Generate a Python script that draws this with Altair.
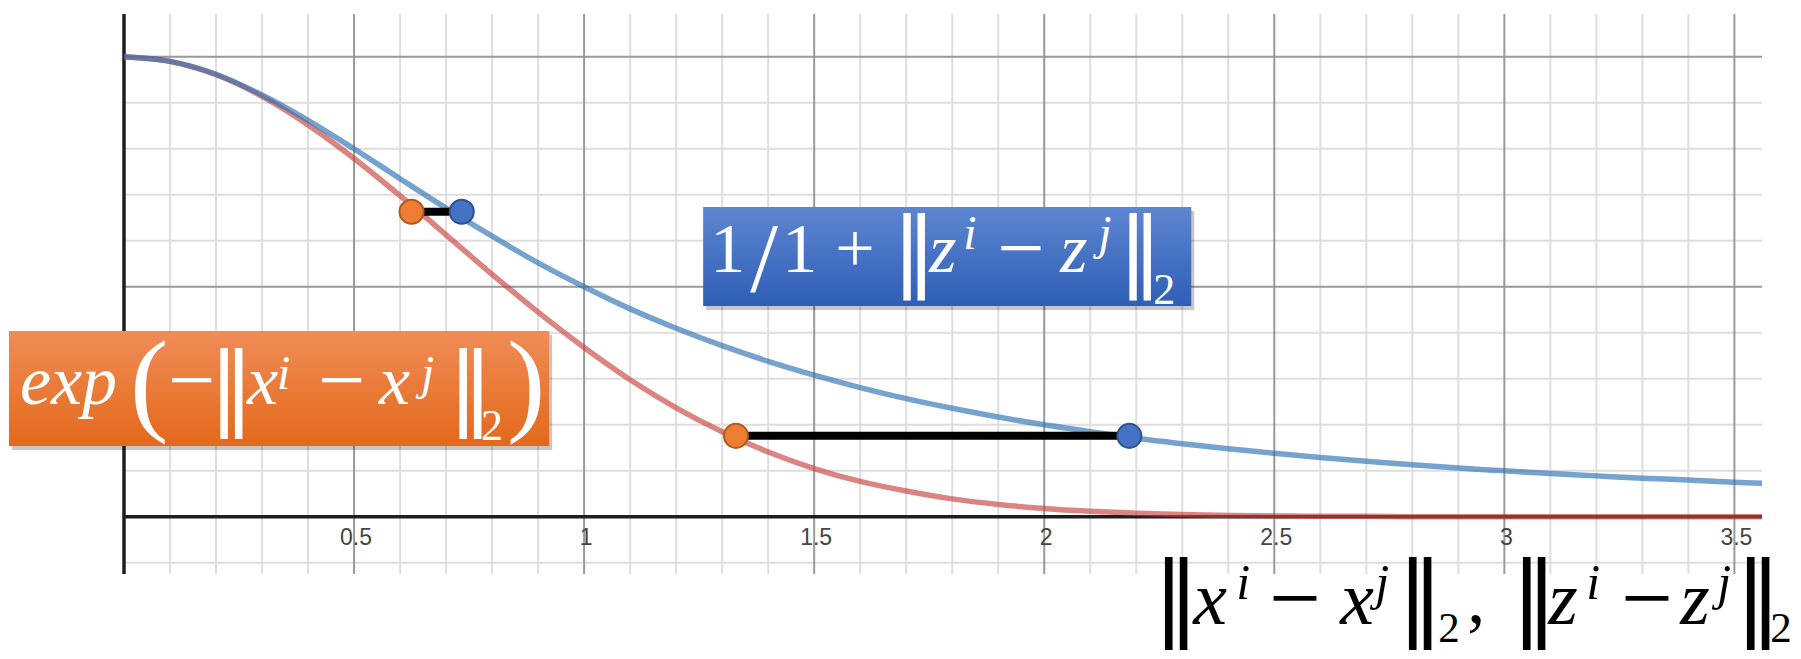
import altair as alt
import pandas as pd

# ---------------- data ----------------
xs = [0.0, 0.1, 0.2, 0.3, 0.4, 0.5, 0.6, 0.7, 0.8, 0.9, 1.0, 1.1, 1.2, 1.3, 1.4, 1.5,
      1.6, 1.7, 1.8, 1.9, 2.0, 2.1, 2.2, 2.3, 2.4, 2.5, 2.6, 2.7, 2.8, 2.9, 3.0, 3.1,
      3.2, 3.3, 3.4, 3.5, 3.6]
red_y = [1.000, 0.990, 0.961, 0.914, 0.852, 0.779, 0.698, 0.613, 0.527, 0.445, 0.368,
         0.298, 0.237, 0.185, 0.141, 0.105, 0.077, 0.056, 0.039, 0.027, 0.018, 0.012,
         0.008, 0.005, 0.003, 0.002, 0.001, 0.001, 0.0, 0.0, 0.0, 0.0, 0.0, 0.0, 0.0,
         0.0, 0.0]
blue_y = [1.000, 0.990, 0.962, 0.917, 0.862, 0.800, 0.735, 0.671, 0.610, 0.552, 0.500,
          0.452, 0.410, 0.372, 0.338, 0.308, 0.281, 0.257, 0.236, 0.217, 0.200, 0.185,
          0.171, 0.159, 0.148, 0.138, 0.129, 0.121, 0.113, 0.106, 0.100, 0.094, 0.089,
          0.084, 0.080, 0.075, 0.072]

pair_y = [0.663, 0.176]
pair_orange_x = [0.625, 1.33]
pair_blue_x = [0.734, 2.185]

x_minor = [0.1, 0.2, 0.3, 0.4, 0.6, 0.7, 0.8, 0.9, 1.1, 1.2, 1.3, 1.4, 1.6, 1.7, 1.8,
           1.9, 2.1, 2.2, 2.3, 2.4, 2.6, 2.7, 2.8, 2.9, 3.1, 3.2, 3.3, 3.4]
x_major = [0.5, 1.0, 1.5, 2.0, 2.5, 3.0, 3.5]
x_tick_labels = ["0.5", "1", "1.5", "2", "2.5", "3", "3.5"]
y_minor = [-0.1, 0.1, 0.2, 0.3, 0.4, 0.6, 0.7, 0.8, 0.9]
y_major = [0.5, 1.0]

# ---------------- layout ----------------
W, H = 1638, 560
X_DOM = [0.0, 3.56]
Y_DOM = [-0.1243, 1.093]
PX = W / (X_DOM[1] - X_DOM[0])
PY = H / (Y_DOM[1] - Y_DOM[0])

xsc = alt.Scale(domain=X_DOM, nice=False, zero=False)
ysc = alt.Scale(domain=Y_DOM, nice=False, zero=False)


def X(f):
    return alt.X(f, type="quantitative", scale=xsc, axis=None)


def Y(f):
    return alt.Y(f, type="quantitative", scale=ysc, axis=None)


# grid
vminor = alt.Chart(pd.DataFrame({"v": x_minor})).mark_rule(color="#dedede", strokeWidth=2).encode(
    x=X("v"), y=alt.value(0), y2=alt.value(H))
vmajor = alt.Chart(pd.DataFrame({"v": x_major})).mark_rule(color="#999999", strokeWidth=2).encode(
    x=X("v"), y=alt.value(0), y2=alt.value(H))
hminor = alt.Chart(pd.DataFrame({"v": y_minor})).mark_rule(color="#dedede", strokeWidth=2).encode(
    y=Y("v"), x=alt.value(0), x2=alt.value(W))
hmajor = alt.Chart(pd.DataFrame({"v": y_major})).mark_rule(color="#999999", strokeWidth=2).encode(
    y=Y("v"), x=alt.value(0), x2=alt.value(W))
yaxis = alt.Chart(pd.DataFrame({"v": [0.0]})).mark_rule(color="#1e1e1e", strokeWidth=3.5).encode(
    x=X("v"), y=alt.value(0), y2=alt.value(H))
xaxis = alt.Chart(pd.DataFrame({"v": [0.0]})).mark_rule(color="#1e1e1e", strokeWidth=3.5).encode(
    y=Y("v"), x=alt.value(-1), x2=alt.value(W))

ticks = alt.Chart(pd.DataFrame({"x": x_major, "t": x_tick_labels, "y": [-0.0615] * len(x_major)})).mark_text(
    font="Liberation Sans", fontSize=23, color="#444444", align="center", baseline="alphabetic", dx=2
).encode(x=X("x"), y=Y("y"), text="t:N")

# curves
curves = pd.DataFrame({"x": xs, "red": red_y, "blue": blue_y})
red_line = alt.Chart(curves).mark_line(color="#c74440", strokeWidth=5.5, opacity=0.65,
                                       interpolate="monotone", clip=True).encode(x=X("x"), y=Y("red"))
blue_line = alt.Chart(curves).mark_line(color="#2d70b3", strokeWidth=5.5, opacity=0.65,
                                        interpolate="monotone", clip=True).encode(x=X("x"), y=Y("blue"))

# distance segments and points
pairs = pd.DataFrame({"xo": pair_orange_x, "xb": pair_blue_x, "y": pair_y})
segs = alt.Chart(pairs).mark_rule(color="black", strokeWidth=8).encode(x=X("xo"), x2="xb:Q", y=Y("y"))
pts_o = alt.Chart(pairs).mark_circle(size=580, color="#ed7d31", opacity=1, stroke="#ae5a21",
                                     strokeWidth=2).encode(x=X("xo"), y=Y("y"))
pts_b = alt.Chart(pairs).mark_circle(size=580, color="#4472c4", opacity=1, stroke="#2f528f",
                                     strokeWidth=2).encode(x=X("xb"), y=Y("y"))

# label boxes
box_df = pd.DataFrame({
    "name": ["orange", "blue"],
    "x1": [-0.25, 1.2587], "x2": [0.924, 2.3196],
    "y1": [0.404, 0.6733], "y2": [0.154, 0.4580],
})
shadow_df = box_df.copy()
shadow_df["x1"] = shadow_df["x1"] + 3 / PX
shadow_df["x2"] = shadow_df["x2"] + 3 / PX
shadow_df["y1"] = shadow_df["y1"] - 4 / PY
shadow_df["y2"] = shadow_df["y2"] - 4 / PY
shadow = alt.Chart(shadow_df).mark_rect(color="#000000", opacity=0.22).encode(
    x=X("x1"), x2="x2:Q", y=Y("y1"), y2="y2:Q")

orange_grad = {"gradient": "linear", "x1": 0, "y1": 0, "x2": 0, "y2": 1,
               "stops": [{"offset": 0, "color": "#f08c56"}, {"offset": 1, "color": "#e3691b"}]}
blue_grad = {"gradient": "linear", "x1": 0, "y1": 0, "x2": 0, "y2": 1,
             "stops": [{"offset": 0, "color": "#5d86d1"}, {"offset": 1, "color": "#2f5eb6"}]}
box_o = alt.Chart(box_df[box_df.name == "orange"]).mark_rect(color=orange_grad).encode(
    x=X("x1"), x2="x2:Q", y=Y("y1"), y2="y2:Q")
box_b = alt.Chart(box_df[box_df.name == "blue"]).mark_rect(color=blue_grad).encode(
    x=X("x1"), x2="x2:Q", y=Y("y1"), y2="y2:Q")

# math labels: (text, dx px, dy px, font size, kind)
orange_label = [
    ("exp", -1, 0, 70, "it"), ("(", 109, 16, 115, "rm"), ("\u2212", 147, 4, 84, "rm"),
    ("\u2016", 188, 13, 90, "bar"), ("x", 226, 0, 70, "it"), ("i", 256, -15, 48, "it"),
    ("\u2212", 297, 4, 84, "rm"), ("x", 358, 0, 70, "it"), ("j", 400, -15, 48, "it"),
    ("\u2016", 427, 13, 90, "bar"), ("2", 460, 36, 44, "rm"), (")", 486, 16, 115, "rm"),
]
blue_label = [
    ("1", -6, 0, 70, "rm"), ("/", 34, 19, 100, "rm"), ("1", 66, 0, 70, "rm"),
    ("+", 119, 0, 70, "rm"), ("\u2016", 176, 7, 88, "bar"), ("z", 213, 0, 70, "it"),
    ("i", 247, -23, 48, "it"), ("\u2212", 281, 4, 84, "rm"), ("z", 344, 0, 70, "it"),
    ("j", 382, -23, 48, "it"), ("\u2016", 402, 7, 88, "bar"), ("2", 437, 32, 44, "rm"),
]
title_label = [
    ("\u2016", 3, 4, 92, "bar"), ("x", 43, 0, 76, "it"), ("i", 86, -25, 50, "it"),
    ("\u2212", 119, 5, 92, "rm"), ("x", 190, 0, 76, "it"), ("j", 225, -25, 50, "it"),
    ("\u2016", 247, 4, 92, "bar"), ("2", 288, 18, 43, "rm"), (",", 317, -2, 72, "rm"),
    ("\u2016", 361, 4, 92, "bar"), ("z", 398, 0, 76, "it"), ("i", 436, -25, 50, "it"),
    ("\u2212", 471, 5, 92, "rm"), ("z", 530, 0, 76, "it"), ("j", 567, -25, 50, "it"),
    ("\u2016", 585, 4, 92, "bar"), ("2", 620, 18, 43, "rm"),
]
anchors = {  # data coordinates of each label's baseline start
    "orange": (-0.2239, 0.245, "white", orange_label),
    "blue": (1.287, 0.532, "white", blue_label),
    "title": (2.2304, -0.2333, "black", title_label),
}
rows = []
for key, (ax, ay, col, items) in anchors.items():
    for t, dx, dy, s, kind in items:
        rows.append({"t": t, "x": ax + dx / PX, "y": ay - dy / PY, "s": s, "c": col, "k": kind})
glyph_df = pd.DataFrame(rows)


def glyph_layer(kind, font, style):
    return alt.Chart(glyph_df[glyph_df.k == kind]).mark_text(
        align="left", baseline="alphabetic", font=font, fontStyle=style
    ).encode(x=X("x"), y=Y("y"), text="t:N",
             size=alt.Size("s:Q", scale=None), color=alt.Color("c:N", scale=None))


g_it = glyph_layer("it", "Liberation Serif", "italic")
g_rm = glyph_layer("rm", "Liberation Serif", "normal")
g_bar = glyph_layer("bar", "DejaVu Sans", "normal")

chart = alt.layer(
    vminor, hminor, vmajor, hmajor, yaxis, xaxis, ticks,
    red_line, blue_line, segs, pts_o, pts_b,
    shadow, box_o, box_b, g_it, g_rm, g_bar,
).properties(
    width=W, height=H,
    autosize=alt.AutoSizeParams(type="none"),
    padding={"left": 116, "top": 6, "right": 31, "bottom": 77},
    background="white",
).configure_view(stroke=None)

chart.save("out.html", embed_options={"renderer": "svg", "actions": False})
